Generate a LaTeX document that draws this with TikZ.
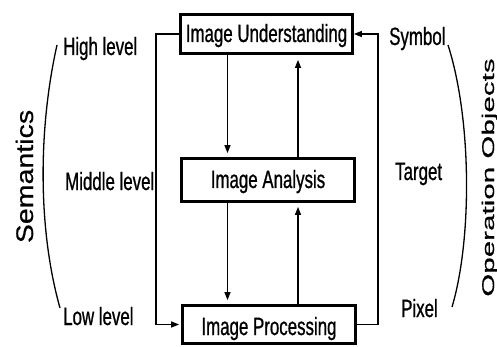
\documentclass[tikz,border=0pt]{standalone}
\usepackage{fontspec}
\usetikzlibrary{arrows.meta}
\newfontfamily\hfont[FakeStretch=0.675,FakeBold=0.8]{Liberation Sans}
\newfontfamily\semfont[FakeStretch=1.19,FakeBold=0.5]{Liberation Sans}
\newfontfamily\opfont[FakeStretch=1.74,FakeBold=0.5]{Liberation Sans}
\begin{document}
\begin{tikzpicture}[x=1pt,y=-1pt,
  box/.style={draw, line width=2.8pt, rectangle, inner sep=0pt,
    font=\hfont\fontsize{25}{30}\selectfont, text height=18pt, text depth=2pt},
  lbl/.style={inner sep=0pt, anchor=base west, font=\hfont\fontsize{25}{30}\selectfont},
  conn/.style={line width=1.2pt},
  arr/.style={conn, -{Triangle[length=8pt,width=6pt]}},
  brk/.style={line width=1.3pt}]
\useasboundingbox (0,0) rectangle (497,347);
% boxes
\node[box, minimum width=172pt, minimum height=39pt] (U) at (266.5,34) {Image Understanding};
\node[box, minimum width=173pt, minimum height=43pt] (A) at (268,180) {Image Analysis};
\node[box, minimum width=173pt, minimum height=38pt, text height=21pt, text depth=0pt] (P) at (269,324.5) {Image Processing};
% lane coordinates
\coordinate (xd) at (227.5,0);
\coordinate (xu) at (298,0);
\coordinate (xl) at (156,0);
\coordinate (xr) at (378,0);
% vertical arrows
\draw[arr, shorten >=4pt] (xd |- U.south) -- (xd |- A.north);
\draw[arr, shorten >=5pt] (xu |- A.north) -- (xu |- U.south);
\draw[arr, shorten >=4pt] (xd |- A.south) -- (xd |- P.north);
\draw[arr, shorten >=4pt] (xu |- P.north) -- (xu |- A.south);
% feedback loops
\draw[arr, shorten >=2pt] (U.west) -- (xl |- U.west) -- (xl |- P.west) -- (P.west);
\draw[arr] (P.east) -- (xr |- P.east) -- (xr |- U.east) -- (U.east);
% labels
\node[lbl] (hl) at (63,55) {High level};
\node[lbl] (ml) at (65,190) {Middle level};
\node[lbl] (ll) at (63,325) {Low level};
\node[lbl] (sy) at (389,45) {Symbol};
\node[lbl] (ta) at (395,180) {Target};
\node[lbl] (px) at (401,317) {Pixel};
\node[inner sep=0pt, anchor=base, rotate=90, font=\semfont\fontsize{24}{28}\selectfont] (sem) at (33,176.5) {Semantics};
\node[inner sep=0pt, anchor=base, rotate=90, font=\opfont\fontsize{17}{20}\selectfont] (op) at (494,177.5) {Operation Objects};
% brackets
\draw[brk] (57,45) .. controls (38,130) and (38,230) .. (60,308);
\draw[brk] (448,45) .. controls (472,120) and (472,240) .. (452,307);
\end{tikzpicture}
\end{document}
